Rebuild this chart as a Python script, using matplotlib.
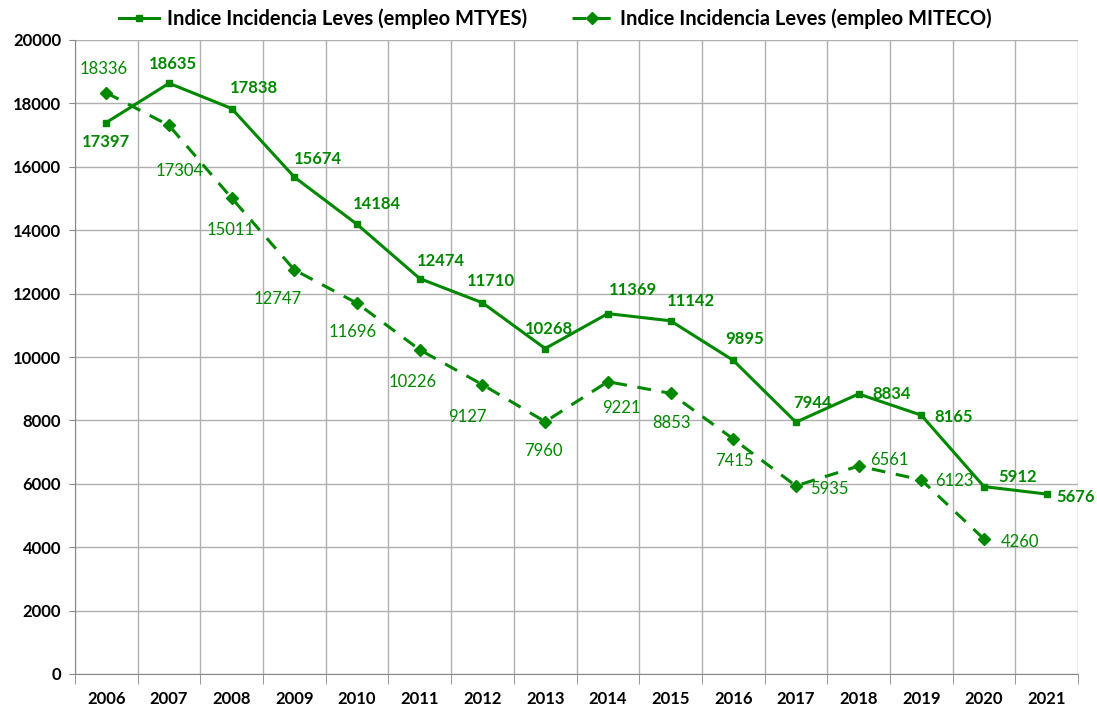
import numpy as np
import matplotlib.pyplot as plt

plt.rcParams['font.family'] = ['Lato', 'DejaVu Sans']

# data
years = ['2006', '2007', '2008', '2009', '2010', '2011', '2012', '2013',
         '2014', '2015', '2016', '2017', '2018', '2019', '2020', '2021']
mtyes = [17397, 18635, 17838, 15674, 14184, 12474, 11710, 10268,
         11369, 11142, 9895, 7944, 8834, 8165, 5912, 5676]
miteco = [18336, 17304, 15011, 12747, 11696, 10226, 9127, 7960,
          9221, 8853, 7415, 5935, 6561, 6123, 4260]

# label offsets in points (x right, y up)
off_mtyes = [(0, -14), (3, 14), (16, 15), (17, 13), (14, 15), (15, 13), (6, 16), (3, 14),
             (18, 17), (15, 14), (8, 15), (12, 14), (24, 0), (23, -1), (24, 7), (21, -2)]
off_miteco = [(-2, 17), (8, -33), (-1, -23), (-12, -21), (-3, -21), (-5, -23), (-11, -23), (-1, -21),
              (10, -19), (1, -21), (1, -16), (24, -2), (22, 4), (24, -1), (26, -2)]

green = '#008800'
x1 = np.arange(len(mtyes))
x2 = np.arange(len(miteco))

fig = plt.figure(figsize=(10.97, 7.06), dpi=100)
ax = fig.add_axes([75/1097, 1-674/706, (1078-75)/1097, (674-40)/706])

ax.plot(x1, mtyes, color=green, lw=2.2, marker='s', ms=5,
        label='Indice Incidencia Leves (empleo MTYES)')
ax.plot(x2, miteco, color=green, lw=2.2, ls=(0, (4.5, 3.5)), marker='D', ms=6,
        label='Indice Incidencia Leves (empleo MITECO)')

for i, v in enumerate(mtyes):
    ax.annotate(str(v), (x1[i], v), textcoords='offset points', xytext=off_mtyes[i],
                ha='center', va='center', fontsize=12, fontweight='bold', color=green,
                annotation_clip=False)
for i, v in enumerate(miteco):
    ax.annotate(str(v), (x2[i], v), textcoords='offset points', xytext=off_miteco[i],
                ha='center', va='center', fontsize=12, color=green)

ax.set_xlim(-0.5, len(years) - 0.5)
ax.set_ylim(0, 20000)
ax.set_yticks(np.arange(0, 20001, 2000))
ax.set_xticks(x1)
ax.set_xticklabels(years)
ax.set_xticks(np.arange(-0.5, len(years)), minor=True)
ax.tick_params(axis='x', which='major', length=0, pad=12)
ax.tick_params(axis='x', which='minor', length=7, color='#888888')
ax.tick_params(axis='y', length=4, color='#888888', pad=6)
for lab in ax.get_xticklabels() + ax.get_yticklabels():
    lab.set_fontweight('bold')
    lab.set_fontsize(12)

ax.grid(axis='y', color='#b0b0b0', lw=1)
ax.grid(axis='x', which='minor', color='#b0b0b0', lw=1)
ax.set_axisbelow(True)
for s in ['top', 'right']:
    ax.spines[s].set_visible(False)
for s in ['left', 'bottom']:
    ax.spines[s].set_color('#888888')

leg = ax.legend(loc='lower center', bbox_to_anchor=(0.479, 1.0), ncol=2, frameon=False,
                prop={'weight': 'bold', 'size': 14.5}, handlelength=2.0,
                handletextpad=0.4, columnspacing=2.2, borderaxespad=0.15)

plt.savefig('out.png', dpi=100)
